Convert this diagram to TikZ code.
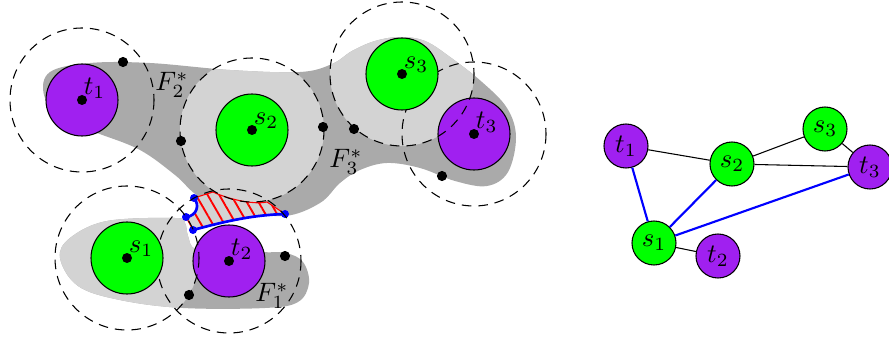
\documentclass[tikz,border=0pt]{standalone}
\usepackage{amsmath}
\usepackage{amssymb}
\usetikzlibrary{patterns.meta}

\definecolor{tcol}{HTML}{A020F0}
\definecolor{scol}{HTML}{00FF00}
\definecolor{fdark}{HTML}{AAAAAA}
\definecolor{flight}{HTML}{D3D3D3}

% outlines of the two face regions
\def\upperblob{plot[smooth cycle, tension=0.6] coordinates {(44,95) (50,72) (90,63) (150,63) (230,70) (300,72) (332,64) (352,51) (375,41) (400,37) (425,41) (450,57) (482,82) (507,108) (516,137) (508,172) (487,186) (455,181) (420,168) (387,163) (360,170) (340,183) (320,203) (285,216) (240,210) (200,197) (175,175) (140,150) (97,133) (62,120)}}
\def\lowerblob{plot[smooth cycle, tension=0.6] coordinates {(60,258) (70,238) (107,221) (175,218) (185,223) (188,236) (196,249) (230,248) (262,252) (286,253) (303,262) (309,283) (298,302) (265,308) (183,308) (120,300) (78,286)}}

\begin{document}
\begin{tikzpicture}[x=0.375pt, y=-0.375pt,
    tdisk/.style = {draw, circle, fill=tcol, minimum size=27pt, inner sep=0pt},
    sdisk/.style = {draw, circle, fill=scol, minimum size=27pt, inner sep=0pt},
    tl/.style = {anchor=south west, inner sep=0.5pt},
    reach/.style = {dash pattern=on 3.6pt off 2.6pt},
    pt/.style = {circle, fill, inner sep=0pt, minimum size=3.8pt},
    bpt/.style = {circle, fill=blue, inner sep=0pt, minimum size=3pt},
    tv/.style = {draw, circle, fill=tcol, minimum size=16.5pt, inner sep=0pt},
    sv/.style = {draw, circle, fill=scol, minimum size=16.5pt, inner sep=0pt}]
    \useasboundingbox (0,0) rectangle (889,342);
    \coordinate (pt1) at (82,100);
    \coordinate (pt2) at (229,261);
    \coordinate (pt3) at (474,134);
    \coordinate (ps1) at (127,258);
    \coordinate (ps2) at (252,130);
    \coordinate (ps3) at (402,74);

    % faces
    \fill[fdark] \upperblob;
    \begin{scope}
        \clip \upperblob;
        \fill[flight] (ps2) circle (72);
        \fill[flight] (ps3) circle (72);
    \end{scope}
    \fill[fdark] \lowerblob;
    \begin{scope}
        \clip \lowerblob;
        \fill[flight] (ps1) circle (72);
    \end{scope}

    % hatched strip
    \coordinate (A) at (194,198);
    \coordinate (B) at (186,217);
    \coordinate (C) at (193,230);
    \coordinate (D) at (285,214);
    \fill[flight] (A) -- (213,192) .. controls (228,199) and (253,205) .. (267,202) -- (D)
        .. controls (255,215) and (230,220) .. (C) -- (B) .. controls (197,216) and (200,205) .. (A) -- cycle;
    \fill[pattern={Lines[angle=-60, distance=3.8pt, line width=0.7pt]}, pattern color=red]
        (A) -- (213,192) .. controls (228,199) and (253,205) .. (267,202) -- (D)
        .. controls (255,215) and (230,220) .. (C) -- (B) .. controls (197,216) and (200,205) .. (A) -- cycle;
    \draw[red] (A) -- (213,192) .. controls (228,199) and (253,205) .. (267,202) -- (D);
    \draw[red] (B) -- (C);
    \draw[blue, line width=1pt] (A) .. controls (200,205) and (197,216) .. (B);
    \draw[blue, line width=1pt] (C) .. controls (230,220) and (255,215) .. (D);
    \foreach \p in {A,B,C,D} \node[bpt] at (\p) {};

    % terminals and their balls
    \node[tdisk] (T1) at (pt1) {};
    \node[tdisk] (T2) at (pt2) {};
    \node[tdisk] (T3) at (pt3) {};
    \foreach \n in {T1,T2,T3} \draw[reach] (\n.center) circle (72);
    \node[sdisk] (S1) at (ps1) {};
    \node[sdisk] (S2) at (ps2) {};
    \node[sdisk] (S3) at (ps3) {};
    \foreach \n in {S1,S2,S3} \draw[reach] (\n.center) circle (72);
    \foreach \n in {T1,T2,T3,S1,S2,S3} \fill (\n.center) circle (5);
    \node[tl] (lt1) at (T1.center) {$t_1$};
    \node[tl] (lt2) at (T2.center) {$t_2$};
    \node[tl] (lt3) at (T3.center) {$t_3$};
    \node[tl] (ls1) at (S1.center) {$s_1$};
    \node[tl] (ls2) at (S2.center) {$s_2$};
    \node[tl] (ls3) at (S3.center) {$s_3$};

    \foreach \p in {(123,62),(181,141),(323,127),(354,129),(442,176),(285,256),(189,295)}
        \node[pt] at \p {};
    \node (F2) at (172,85) {$F_2^*$};
    \node (F3) at (346,162) {$F_3^*$};
    \node (F1) at (272,296) {$F_1^*$};

    % graph
    \node[tv] (t1) at (626,146) {$t_1$};
    \node[sv] (s2) at (732,164) {$s_2$};
    \node[sv] (s3) at (825,129) {$s_3$};
    \node[tv] (t3) at (870,167) {$t_3$};
    \node[sv] (s1) at (654,243) {$s_1$};
    \node[tv] (t2) at (718,256) {$t_2$};
    \draw (t1) -- (s2);
    \draw (s2) -- (s3);
    \draw (s2) -- (t3);
    \draw (s3) -- (t3);
    \draw (s1) -- (t2);
    \draw[blue, line width=0.8pt] (t1) -- (s1);
    \draw[blue, line width=0.8pt] (s2) -- (s1);
    \draw[blue, line width=0.8pt] (t3) -- (s1);
\end{tikzpicture}
\end{document}
